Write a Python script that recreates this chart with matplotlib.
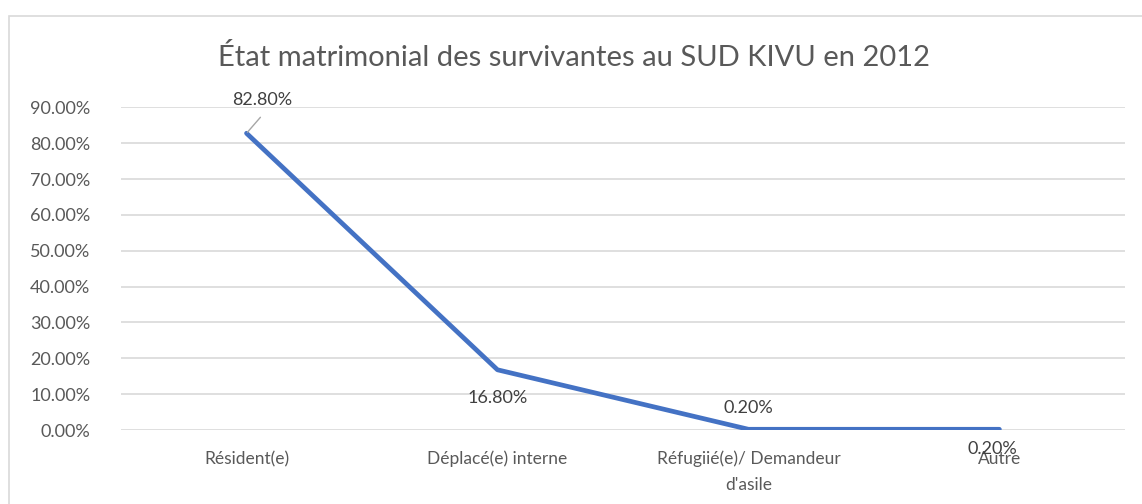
import matplotlib.pyplot as plt
from matplotlib.patches import Rectangle
from matplotlib.ticker import FuncFormatter

categories = ['Résident(e)', 'Déplacé(e) interne', 'Réfugiié(e)/ Demandeur\nd\'asile', 'Autre']
values = [0.828, 0.168, 0.002, 0.002]
value_labels = ['82.80%', '16.80%', '0.20%', '0.20%']
yticks = [0.0, 0.1, 0.2, 0.3, 0.4, 0.5, 0.6, 0.7, 0.8, 0.9]

plt.rcParams['font.family'] = ['Lato', 'DejaVu Sans']
grey = '#595959'

fig = plt.figure(figsize=(11.42, 5.04), dpi=100)
fig.patches.append(Rectangle((9 / 1142, -0.01), 1.0, 1 - 16 / 504 + 0.01, transform=fig.transFigure,
                             fill=False, edgecolor='#D9D9D9', linewidth=1.2))
ax = fig.add_axes([0.106, 0.1468, 0.879, 0.64])

x = list(range(len(categories)))
ax.plot(x, values, color='#4472C4', linewidth=3.4, solid_capstyle='round', zorder=3)

ax.set_xlim(-0.5, len(categories) - 0.5)
ax.set_ylim(0, 0.9)
ax.set_yticks(yticks)
ax.yaxis.set_major_formatter(FuncFormatter(lambda v, p: '{:.2f}%'.format(v * 100)))
ax.set_xticks(x)
ax.set_xticklabels(categories, linespacing=1.75)
ax.tick_params(axis='y', length=0, pad=22, labelsize=13, labelcolor=grey)
ax.tick_params(axis='x', length=0, pad=15, labelsize=12.5, labelcolor=grey)
ax.grid(axis='y', color='#D9D9D9', linewidth=1.2)
ax.set_axisbelow(True)
for s in ax.spines.values():
    s.set_visible(False)

# data labels, placed like the excel ones (last one overlaps "Autre" in the original too)
lab = dict(fontsize=13, color='#404040', ha='center', va='center')
ax.annotate('', (x[0], values[0]), xytext=(10, 11.5), textcoords='offset points',
            arrowprops=dict(arrowstyle='-', color='#A6A6A6', lw=1, shrinkA=0, shrinkB=1))
ax.annotate(value_labels[0], (x[0], values[0]), xytext=(11, 24), textcoords='offset points', **lab)
ax.annotate(value_labels[1], (x[1], values[1]), xytext=(0, -20), textcoords='offset points', **lab)
ax.annotate(value_labels[2], (x[2], values[2]), xytext=(0, 15), textcoords='offset points', **lab)
ax.annotate(value_labels[3], (x[3], values[3]), xytext=(-5, -14), textcoords='offset points', **lab)

fig.text(0.503, 0.886, 'État matrimonial des survivantes au SUD KIVU en 2012', ha='center', va='center',
         fontsize=21, color=grey)

fig.savefig('out.png', dpi=100)
